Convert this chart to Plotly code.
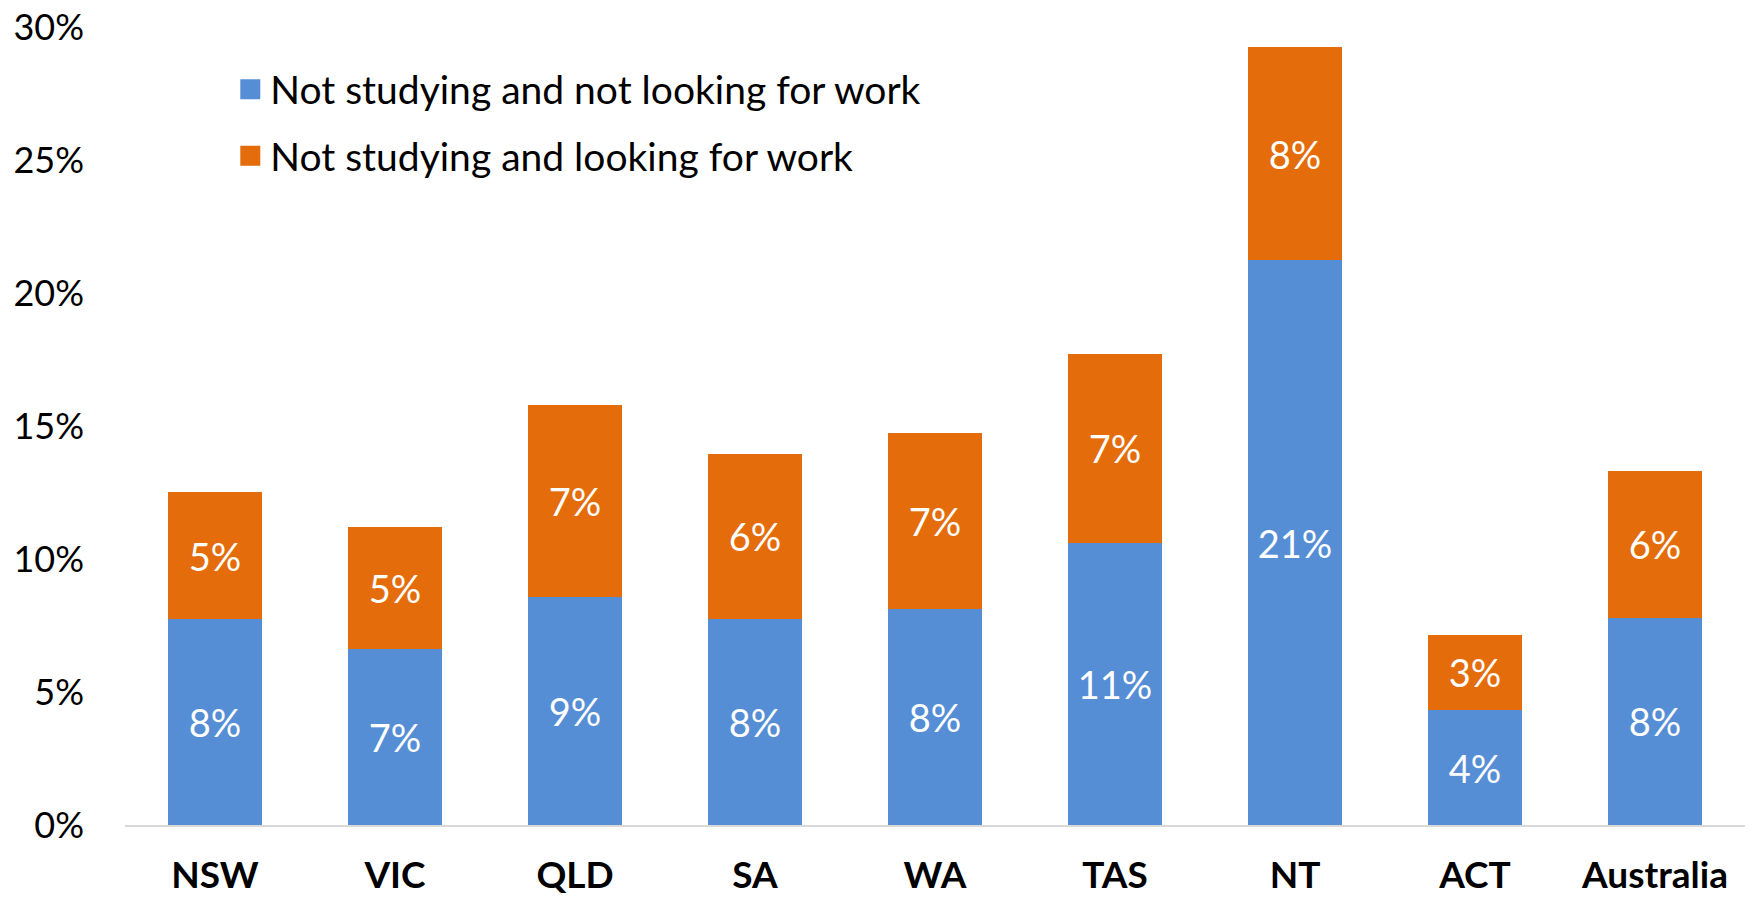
import plotly.graph_objects as go

categories = ["NSW", "VIC", "QLD", "SA", "WA", "TAS", "NT", "ACT", "Australia"]
not_looking = [7.74, 6.63, 8.59, 7.75, 8.13, 10.60, 21.24, 4.31, 7.79]
looking = [4.77, 4.58, 7.20, 6.20, 6.62, 7.12, 8.00, 2.85, 5.53]
series_names = ["Not studying and not looking for work", "Not studying and looking for work"]
y_ticks = [0, 5, 10, 15, 20, 25, 30]

FONT = "Lato"
BLUE = "#558ED5"
ORANGE = "#E46C0A"
colors = [BLUE, ORANGE]

fig = go.Figure()
for vals, name, col in zip([not_looking, looking], series_names, colors):
    fig.add_trace(go.Bar(
        x=categories, y=vals, name=name, showlegend=False,
        marker=dict(color=col, line=dict(width=0)),
        texttemplate="%{y:.0f}%", textposition="inside", insidetextanchor="middle",
        textfont=dict(color="white", size=38, family=FONT),
    ))
# legend-only entries with larger square swatches
for name, col in zip(series_names, colors):
    fig.add_trace(go.Scatter(
        x=[None], y=[None], mode="markers", name=name, legendgroup=name,
        marker=dict(symbol="square", size=16, color=col, line=dict(color=col, width=4)),
    ))

fig.update_layout(
    barmode="stack",
    bargap=0.48,
    width=1750, height=898,
    margin=dict(l=125, r=5, t=27, b=73),
    plot_bgcolor="white", paper_bgcolor="white",
    font=dict(family=FONT, color="black"),
    uniformtext=dict(minsize=10, mode="show"),
    legend=dict(
        x=0.065, y=0.962, xanchor="left", yanchor="top",
        font=dict(size=39, family=FONT),
        bgcolor="rgba(0,0,0,0)",
        tracegroupgap=13,
        traceorder="grouped",
    ),
    showlegend=True,
)
fig.update_xaxes(
    showgrid=False, showline=True, linecolor="#d9d9d9", linewidth=2,
    ticks="", tickfont=dict(size=37, family=FONT, color="black", weight="bold"),
    ticklabelstandoff=17, automargin=False,
)
fig.update_yaxes(
    range=[0, 30], tickvals=y_ticks, ticktext=[f"{v}%" for v in y_ticks],
    showgrid=False, showline=False, zeroline=False, ticks="",
    tickfont=dict(size=36, family=FONT, color="black"),
    ticklabelstandoff=40, automargin=False,
)

fig.write_html("out.html", config={"displayModeBar": False},
               post_script="document.body.style.margin='0';")
